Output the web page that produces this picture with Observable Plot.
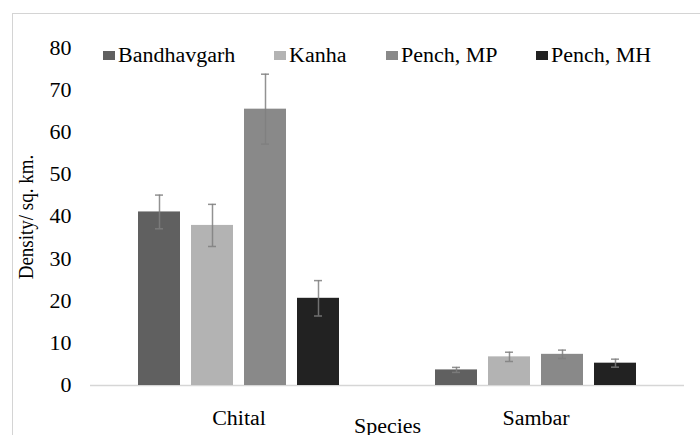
<!DOCTYPE html>
<html><head><meta charset="utf-8">
<script src="https://cdn.jsdelivr.net/npm/d3@7"></script>
<script src="https://cdn.jsdelivr.net/npm/@observablehq/plot@0.6"></script>
<style>
body{margin:0;background:#fff;}
#wrap{position:relative;width:700px;height:435px;overflow:hidden;font-family:"Liberation Serif","Tinos","Times New Roman","Noto Serif","DejaVu Serif",serif;}
#frame{position:absolute;left:12px;top:13px;width:720px;height:460px;border:1px solid #d4d4d4;box-sizing:border-box;}
#chart{position:absolute;left:0;top:0;}
#legend{position:absolute;left:103px;top:43px;height:24px;display:flex;align-items:center;font-size:20px;line-height:24px;color:#000;white-space:nowrap;}
.item{display:flex;align-items:center;margin-right:39px;}
.sw{width:12px;height:9px;margin-right:3px;}
.lab{display:inline-block;transform-origin:left center;}
</style></head>
<body>
<div id="wrap"><div id="frame"></div><div id="chart"></div><div id="legend"></div></div>
<script>
const species = ["Chital", "Sambar"];
const sites = ["Bandhavgarh", "Kanha", "Pench, MP", "Pench, MH"];
const chital = [41.2, 38.0, 65.6, 20.7];
const chitalErr = [4.0, 5.0, 8.3, 4.2];
const sambar = [3.7, 6.8, 7.4, 5.3];
const sambarErr = [0.6, 1.1, 1.0, 0.95];
const colors = ["#606060", "#b3b3b3", "#898989", "#222222"];
const yTicks = [0, 10, 20, 30, 40, 50, 60, 70, 80];
const yLabel = "Density/ sq. km.";
const xLabel = "Species";

const STRETCH = 1.1;
const FONT = '"Liberation Serif","Tinos","Times New Roman","Noto Serif","DejaVu Serif",serif';
const data = [];
sites.forEach((s, i) => {
  data.push({species: "Chital", site: s, value: chital[i], err: chitalErr[i]});
});
sites.forEach((s, i) => {
  data.push({species: "Sambar", site: s, value: sambar[i], err: sambarErr[i]});
});

const errStroke = "#7f7f7f";
const plot = Plot.plot({
  width: 700, height: 435,
  marginLeft: 89, marginRight: 16, marginTop: 48, marginBottom: 50,
  style: {fontFamily: FONT, fontSize: "20px", background: "transparent", color: "#000", overflow: "visible"},
  fx: {domain: species, padding: 0, label: xLabel, labelAnchor: "center", tickSize: 0, tickPadding: 25, labelOffset: 47},
  x: {domain: sites, paddingInner: 0.2, paddingOuter: 0.855, axis: null},
  y: {domain: [0, 80], ticks: yTicks, tickSize: 0, tickPadding: 19, label: yLabel, labelAnchor: "center", labelOffset: 72, labelArrow: "none"},
  color: {domain: sites, range: colors},
  marks: [
    Plot.ruleY([0], {stroke: "#d6d6d6", strokeWidth: 1.5}),
    Plot.barY(data, {fx: "species", x: "site", y: "value", fill: "site"}),
    Plot.ruleX(data, {fx: "species", x: "site", y1: d => d.value - d.err, y2: d => d.value + d.err, stroke: errStroke, strokeWidth: 1.5, strokeOpacity: 0.85}),
    Plot.tickY(data, {fx: "species", x: "site", y: d => d.value + d.err, stroke: errStroke, strokeWidth: 1.5, strokeOpacity: 0.85, insetLeft: 17, insetRight: 17}),
    Plot.tickY(data, {fx: "species", x: "site", y: d => d.value - d.err, stroke: errStroke, strokeWidth: 1.5, strokeOpacity: 0.85, insetLeft: 17, insetRight: 17})
  ]
});
document.getElementById("chart").appendChild(plot);
plot.querySelectorAll("text").forEach(t => {
  t.style.fontFamily = FONT;
  const w = t.getComputedTextLength();
  const k = t.textContent === yLabel ? 0.95 : STRETCH;
  if (w > 0) {
    t.setAttribute("textLength", w * k);
    t.setAttribute("lengthAdjust", "spacingAndGlyphs");
  }
});

const legend = document.getElementById("legend");
sites.forEach((s, i) => {
  const item = document.createElement("div");
  item.className = "item";
  const sw = document.createElement("div");
  sw.className = "sw";
  sw.style.background = colors[i];
  const lab = document.createElement("span");
  lab.className = "lab";
  lab.textContent = s;
  item.appendChild(sw);
  item.appendChild(lab);
  legend.appendChild(item);
  const w = lab.getBoundingClientRect().width;
  lab.style.width = (w * STRETCH) + "px";
  lab.style.transform = `scaleX(${STRETCH})`;
});
</script>
</body></html>
